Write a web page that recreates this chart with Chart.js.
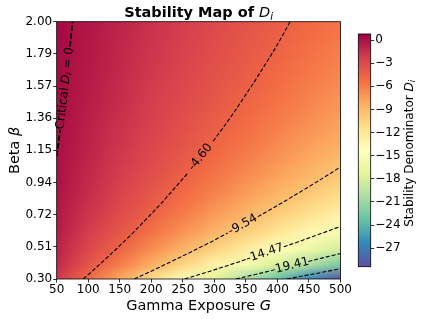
<!DOCTYPE html>
<html><head><meta charset="utf-8">
<script src="https://cdn.jsdelivr.net/npm/chart.js@4.4.1/dist/chart.umd.min.js"></script>
<style>
html,body{margin:0;padding:0;background:#fff;}
#wrap{position:relative;width:425px;height:319px;}
canvas{position:absolute;left:0;top:0;}
</style>
</head><body>
<div id="wrap"><canvas id="main" width="425" height="319"></canvas><canvas id="cbar" width="425" height="319"></canvas></div>
<script>
// ---------------- data ----------------
const gammaValues = [50,100,150,200,250,300,350,400,450,500];
const betaValues = [0.3,0.4,0.5,0.6,0.7,0.8,0.9,1.0,1.1,1.2,1.3,1.4,1.5,1.6,1.7,1.8,1.9,2.0];
// D_i estimates, one row per beta value (bottom to top), one column per gamma value
const dGrid = [
  [-2.05,-5.10,-8.15,-11.21,-14.26,-17.31,-20.36,-23.41,-26.46,-29.52],
  [-1.35,-3.70,-6.05,-8.40,-10.75,-13.10,-15.45,-17.80,-20.15,-22.50],
  [-0.93,-2.86,-4.79,-6.72,-8.65,-10.57,-12.50,-14.43,-16.36,-18.29],
  [-0.65,-2.30,-3.95,-5.59,-7.24,-8.89,-10.54,-12.19,-13.84,-15.49],
  [-0.45,-1.90,-3.34,-4.79,-6.24,-7.69,-9.14,-10.58,-12.03,-13.48],
  [-0.30,-1.60,-2.89,-4.19,-5.49,-6.79,-8.08,-9.38,-10.68,-11.98],
  [-0.18,-1.36,-2.54,-3.72,-4.90,-6.08,-7.26,-8.44,-9.62,-10.81],
  [-0.09,-1.17,-2.26,-3.35,-4.44,-5.52,-6.61,-7.70,-8.78,-9.87],
  [-0.01,-1.02,-2.03,-3.04,-4.05,-5.06,-6.07,-7.08,-8.09,-9.11],
  [0.05,-0.89,-1.84,-2.79,-3.73,-4.68,-5.63,-6.57,-7.52,-8.47],
  [0.11,-0.79,-1.68,-2.57,-3.46,-4.36,-5.25,-6.14,-7.03,-7.93],
  [0.15,-0.69,-1.54,-2.39,-3.23,-4.08,-4.93,-5.77,-6.62,-7.47],
  [0.19,-0.61,-1.42,-2.23,-3.03,-3.84,-4.65,-5.45,-6.26,-7.07],
  [0.23,-0.54,-1.31,-2.09,-2.86,-3.63,-4.40,-5.17,-5.94,-6.71],
  [0.26,-0.48,-1.22,-1.96,-2.70,-3.44,-4.18,-4.92,-5.66,-6.40],
  [0.29,-0.43,-1.14,-1.85,-2.56,-3.28,-3.99,-4.70,-5.42,-6.13],
  [0.31,-0.38,-1.06,-1.75,-2.44,-3.13,-3.82,-4.51,-5.19,-5.88],
  [0.33,-0.33,-1.00,-1.66,-2.33,-3.00,-3.66,-4.33,-4.99,-5.66]
];
const xTickValues = [50,100,150,200,250,300,350,400,450,500];
const yTickValues = [0.3,0.5125,0.725,0.9375,1.15,1.3625,1.575,1.7875,2.0];
const yTickLabels = ['0.30','0.51','0.72','0.94','1.15','1.36','1.57','1.79','2.00'];
const cbTickValues = [0,-3,-6,-9,-12,-15,-18,-21,-24,-27];
const cbRange = [-29.4, 0.78];
const contourLevels = [-4.60,-9.54,-14.47,-19.41,-24.35];
const labeledLevels = [true,true,true,true,false];
// contour paths as [gamma, beta]; null = gap left for the inline label
const contour1 = [[92,0.3],[106,0.35],[119,0.4],[132,0.45],[145,0.5],[170,0.6],[193,0.7],[216,0.8],[237,0.9],[258,1.0],null,[298,1.21],[314,1.3],[331,1.4],[347,1.5],[363,1.6],[378,1.7],[393,1.8],[407,1.9],[420,2.0]];
const contour2 = [[173,0.3],[199,0.35],[224,0.4],[249,0.45],[273,0.5],[297,0.55],[321,0.604],null,[369,0.712],[406,0.8],[446,0.9],[485,1.0],[500,1.041]];
const contour3 = [[253,0.3],[292,0.35],[329,0.4],[350,0.429],null,[410,0.5125],[436,0.55],[469,0.6],[500,0.647]];
const contour4 = [[334,0.3],[365,0.33],[391,0.356],null,[449,0.416],[482,0.45],[500,0.469]];
const contour5 = [[415,0.3],[453,0.33],[466,0.34],[478,0.35],[500,0.368]];
const criticalContour = [[49.8,1.11],[52.8,1.2],[55.5,1.285],null,[71,1.835],[72.7,1.9],[75,2.0]];
const contourPaths = [contour1,contour2,contour3,contour4,contour5];

// ---------------- helpers ----------------
const FONT = "'DejaVu Sans', 'Liberation Sans', sans-serif";
const spectral = [[158,1,66],[213,62,79],[244,109,67],[253,174,97],[254,224,139],[255,255,191],[230,245,152],[171,221,164],[102,194,165],[50,136,189],[94,79,162]];
function cmap(v){ // Spectral_r over cbRange
  let t = (v - cbRange[0])/(cbRange[1]-cbRange[0]);
  t = Math.max(0, Math.min(1, t));
  const u = (1 - t)*10;
  const i = Math.min(9, Math.floor(u)), f = u - i;
  const a = spectral[i], b = spectral[i+1];
  return [a[0]+(b[0]-a[0])*f, a[1]+(b[1]-a[1])*f, a[2]+(b[2]-a[2])*f];
}
function segFont(s, size){
  const sz = s.sub ? size*0.7 : size;
  return (s.italic?'italic ':'') + (s.bold?'bold ':'') + sz + 'px ' + FONT;
}
function drawRich(ctx, segs, x, y, angle, size, baseline){
  ctx.save();
  let total = 0; const widths = [];
  for (const s of segs){ ctx.font = segFont(s,size); const w = ctx.measureText(s.t).width; widths.push(w); total += w; }
  ctx.translate(x,y); ctx.rotate(angle);
  ctx.textBaseline = baseline || 'alphabetic'; ctx.textAlign = 'left'; ctx.fillStyle = '#000';
  let cx = -total/2;
  segs.forEach((s,i)=>{ ctx.font = segFont(s,size); ctx.fillText(s.t, cx, s.sub ? size*0.22 : 0); cx += widths[i]; });
  ctx.restore();
}
function splitSegments(path){
  const segs = []; let cur = [];
  for (const p of path){ if (p === null){ if (cur.length) segs.push(cur); cur = []; } else cur.push({x:p[0], y:p[1]}); }
  if (cur.length) segs.push(cur);
  return segs;
}
function gapOf(path){
  const k = path.indexOf(null);
  return k < 0 ? null : [path[k-1], path[k+1]];
}

// ---------------- datasets ----------------
const datasets = [];
contourPaths.forEach(path=>{
  splitSegments(path).forEach(seg=>datasets.push({data:seg, showLine:true, borderColor:'#000', borderWidth:1.1, borderDash:[4,2], pointRadius:0, fill:false}));
});
splitSegments(criticalContour).forEach(seg=>datasets.push({data:seg, showLine:true, borderColor:'#000', borderWidth:1.8, borderDash:[5.5,2.4], pointRadius:0, fill:false}));

const heatmapPlugin = {
  id:'heatmap',
  beforeDatasetsDraw(chart){
    const {ctx, chartArea:a, scales:{x,y}} = chart;
    const nc = gammaValues.length, nr = betaValues.length;
    const off = document.createElement('canvas'); off.width = nc; off.height = nr;
    const octx = off.getContext('2d'); const img = octx.createImageData(nc,nr);
    for (let r=0;r<nr;r++) for (let c=0;c<nc;c++){
      const col = cmap(dGrid[r][c]); const idx = ((nr-1-r)*nc + c)*4;
      img.data[idx]=col[0]; img.data[idx+1]=col[1]; img.data[idx+2]=col[2]; img.data[idx+3]=255;
    }
    octx.putImageData(img,0,0);
    const dG = gammaValues[1]-gammaValues[0], dB = betaValues[1]-betaValues[0];
    const x0 = x.getPixelForValue(gammaValues[0]-dG/2), x1 = x.getPixelForValue(gammaValues[nc-1]+dG/2);
    const y0 = y.getPixelForValue(betaValues[nr-1]+dB/2), y1 = y.getPixelForValue(betaValues[0]-dB/2);
    ctx.save(); ctx.beginPath(); ctx.rect(a.left,a.top,a.right-a.left,a.bottom-a.top); ctx.clip();
    ctx.imageSmoothingEnabled = true; ctx.imageSmoothingQuality = 'low';
    ctx.drawImage(off, x0, y0, x1-x0, y1-y0);
    ctx.restore();
  }
};

const overlayPlugin = {
  id:'overlay',
  afterDraw(chart){
    const {ctx, chartArea:a, scales:{x,y}} = chart;
    // frame
    ctx.save(); ctx.strokeStyle='#000'; ctx.lineWidth=0.8; ctx.strokeRect(a.left,a.top,a.right-a.left,a.bottom-a.top); ctx.restore();
    // contour labels in the gaps
    contourPaths.forEach((path,i)=>{
      if (!labeledLevels[i]) return;
      const g = gapOf(path); if (!g) return;
      const px0 = x.getPixelForValue(g[0][0]), py0 = y.getPixelForValue(g[0][1]);
      const px1 = x.getPixelForValue(g[1][0]), py1 = y.getPixelForValue(g[1][1]);
      const ang = Math.atan2(py1-py0, px1-px0);
      drawRich(ctx, [{t: contourLevels[i].toFixed(2)}], (px0+px1)/2, (py0+py1)/2, ang, 12, 'middle');
    });
    const cg = gapOf(criticalContour);
    {
      const px0 = x.getPixelForValue(cg[0][0]), py0 = y.getPixelForValue(cg[0][1]);
      const px1 = x.getPixelForValue(cg[1][0]), py1 = y.getPixelForValue(cg[1][1]);
      const ang = Math.atan2(py1-py0, px1-px0);
      drawRich(ctx, [{t:'Critical '},{t:'D',italic:true},{t:'i',italic:true,sub:true},{t:' = 0'}], (px0+px1)/2, (py0+py1)/2, ang, 12, 'middle');
    }
    const cx = (a.left+a.right)/2, cy = (a.top+a.bottom)/2;
    // title
    drawRich(ctx, [{t:'Stability Map of ',bold:true},{t:'D',italic:true},{t:'i',italic:true,sub:true}], cx, a.top-4.4, 0, 14.5);
    // x title
    drawRich(ctx, [{t:'Gamma Exposure '},{t:'G',italic:true}], cx, a.bottom+30.5, 0, 14.5);
    // y title
    drawRich(ctx, [{t:'Beta '},{t:'β',italic:true}], a.left-37.5, cy, -Math.PI/2, 14.5);
  }
};

const tickFont = {family: FONT, size: 12};
new Chart(document.getElementById('main'), {
  type:'scatter',
  data:{datasets},
  options:{
    responsive:false, animation:false, devicePixelRatio:1,
    layout:{padding:{top:21.7, right:84.5, left:0, bottom:0}},
    plugins:{legend:{display:false}, tooltip:{enabled:false}, title:{display:false}},
    scales:{
      x:{type:'linear', min:50, max:500,
        afterBuildTicks: s=>{ s.ticks = xTickValues.map(v=>({value:v})); },
        afterFit: s=>{ s.height = 40; },
        grid:{drawOnChartArea:false, drawTicks:true, tickLength:3.5, color:'#000', lineWidth:0.8},
        border:{display:false},
        ticks:{font:tickFont, color:'#000', padding:0, maxRotation:0, autoSkip:false, callback:(v)=>String(v)}},
      y:{type:'linear', min:0.3, max:2.0,
        afterBuildTicks: s=>{ s.ticks = yTickValues.map(v=>({value:v})); },
        afterFit: s=>{ s.width = 56.7; },
        grid:{drawOnChartArea:false, drawTicks:true, tickLength:3.5, color:'#000', lineWidth:0.8},
        border:{display:false},
        ticks:{font:tickFont, color:'#000', padding:1, autoSkip:false, callback:(v,i)=>yTickLabels[i]}}
    }
  },
  plugins:[heatmapPlugin, overlayPlugin]
});

const cbarPlugin = {
  id:'cbarFill',
  beforeDatasetsDraw(chart){
    const {ctx, chartArea:a, scales:{y}} = chart;
    ctx.save();
    for (let py=Math.floor(a.top); py<Math.ceil(a.bottom); py++){
      const v = y.getValueForPixel(py+0.5);
      const c = cmap(v);
      ctx.fillStyle = 'rgb('+c.map(Math.round).join(',')+')';
      const top = Math.max(py, a.top), bot = Math.min(py+1, a.bottom);
      ctx.fillRect(a.left, top, a.right-a.left, bot-top);
    }
    ctx.strokeStyle='#000'; ctx.lineWidth=0.8; ctx.strokeRect(a.left,a.top,a.right-a.left,a.bottom-a.top);
    ctx.restore();
  },
  afterDraw(chart){
    const {ctx, chartArea:a} = chart;
    drawRich(chart.ctx, [{t:'Stability Denominator '},{t:'D',italic:true},{t:'i',italic:true,sub:true}], a.right+42, (a.top+a.bottom)/2 + 3, -Math.PI/2, 12);
  }
};
new Chart(document.getElementById('cbar'), {
  type:'scatter',
  data:{datasets:[]},
  options:{
    responsive:false, animation:false, devicePixelRatio:1,
    layout:{padding:{left:358.3, top:34, bottom:52.3, right:0}},
    plugins:{legend:{display:false}, tooltip:{enabled:false}},
    scales:{
      x:{display:false, min:0, max:1},
      y:{position:'right', min:cbRange[0], max:cbRange[1],
        afterBuildTicks: s=>{ s.ticks = cbTickValues.map(v=>({value:v})); },
        afterFit: s=>{ s.width = 425-370.7; },
        grid:{drawOnChartArea:false, drawTicks:true, tickLength:3.5, color:'#000', lineWidth:0.8},
        border:{display:false},
        ticks:{font:tickFont, color:'#000', padding:1, autoSkip:false, callback:(v)=> v===0 ? '0' : '\u2212'+Math.abs(v)}}
    }
  },
  plugins:[cbarPlugin]
});
</script>
</body></html>
